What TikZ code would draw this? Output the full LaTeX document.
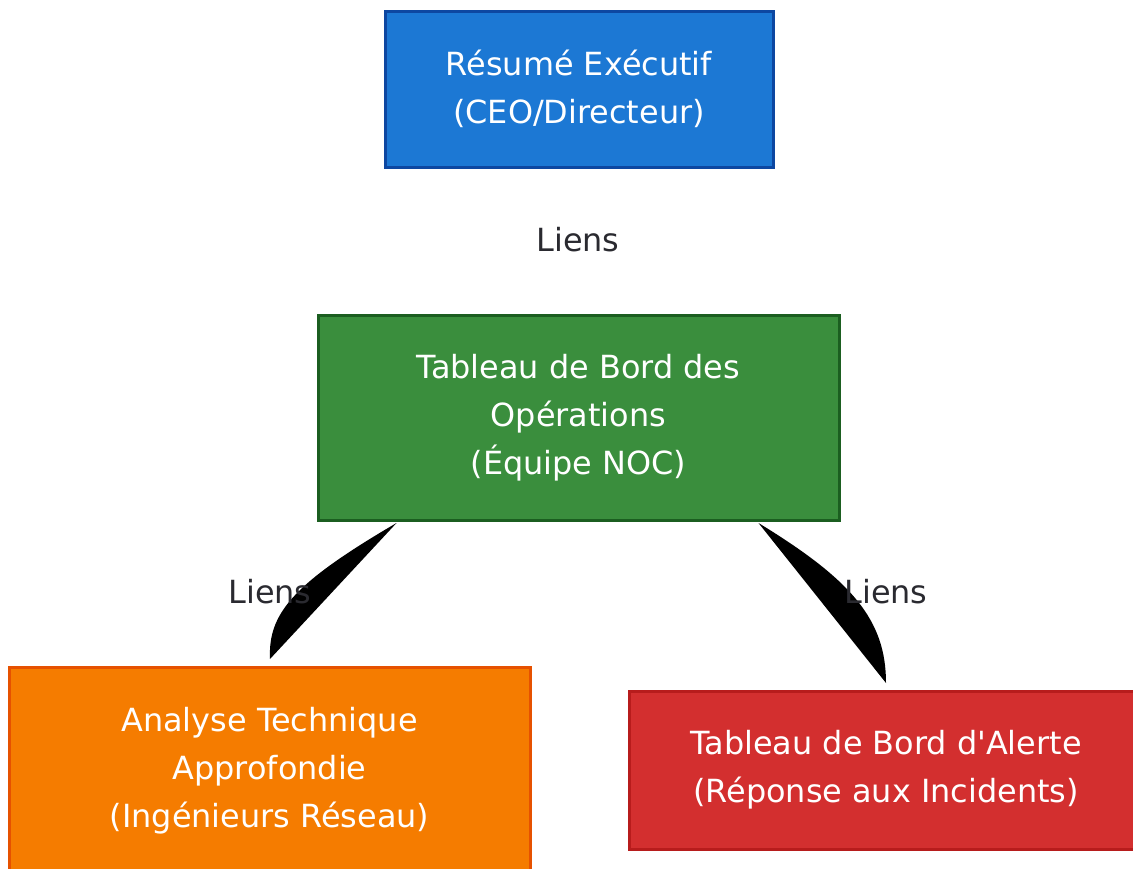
\documentclass[tikz,border=0pt]{standalone}
\usepackage{fontspec}
\newfontfamily\djv{DejaVu Sans}
\usetikzlibrary{calc}
\definecolor{bluef}{HTML}{1C78D4}
\definecolor{blued}{HTML}{0D47A1}
\definecolor{greenf}{HTML}{3A8E3D}
\definecolor{greend}{HTML}{1B5E20}
\definecolor{orangef}{HTML}{F57C00}
\definecolor{oranged}{HTML}{E65100}
\definecolor{redf}{HTML}{D32F2F}
\definecolor{redd}{HTML}{B71C1C}
\definecolor{labc}{HTML}{2A2A30}
\tikzset{
  box/.style={rectangle, line width=3pt, inner sep=0pt, align=center, text=white,
    font=\djv\fontsize{31.9}{48}\selectfont},
  lab/.style={text=labc, inner sep=0pt, font=\djv\fontsize{31.9}{48}\selectfont},
  wedge/.style={fill=black, draw=none}
}
\begin{document}
\begin{tikzpicture}[x=1pt,y=-1pt]
\useasboundingbox (0,0) rectangle (1133,868);
\clip (0,0) rectangle (1133,868);
\node[box, fill=bluef, draw=blued, minimum width=388pt, minimum height=156pt] (exec) at (579,89)
  {Résumé Exécutif\\(CEO/Directeur)};
\node[box, fill=greenf, draw=greend, minimum width=521pt, minimum height=205pt] (ops) at (578.5,418)
  {Tableau de Bord des\\Opérations\\(Équipe NOC)};
\node[box, fill=orangef, draw=oranged, minimum width=521pt, minimum height=208pt] (tech) at (269.5,771)
  {Analyse Technique\\Approfondie\\(Ingénieurs Réseau)};
\node[box, fill=redf, draw=redd, minimum width=514pt, minimum height=158pt] (alert) at (886,770)
  {Tableau de Bord d'Alerte\\(Réponse aux Incidents)};
% connectors (rendered as filled curves)
\coordinate (l0) at ($(ops.south west)+(80,1)$);
\coordinate (l1) at (270,659);
\coordinate (r0) at ($(ops.south west)+(442,1)$);
\coordinate (r1) at (886,683);
\fill[wedge] (l0) .. controls (292,584) and (268,614) .. (l1) -- cycle;
\fill[wedge] (r0) .. controls (852,580) and (886,620) .. (r1) -- cycle;
% labels
\node[lab] (lab1) at (578,240) {Liens};
\node[lab] (lab2) at (270,592) {Liens};
\node[lab] (lab3) at (886,592) {Liens};
\end{tikzpicture}
\end{document}
